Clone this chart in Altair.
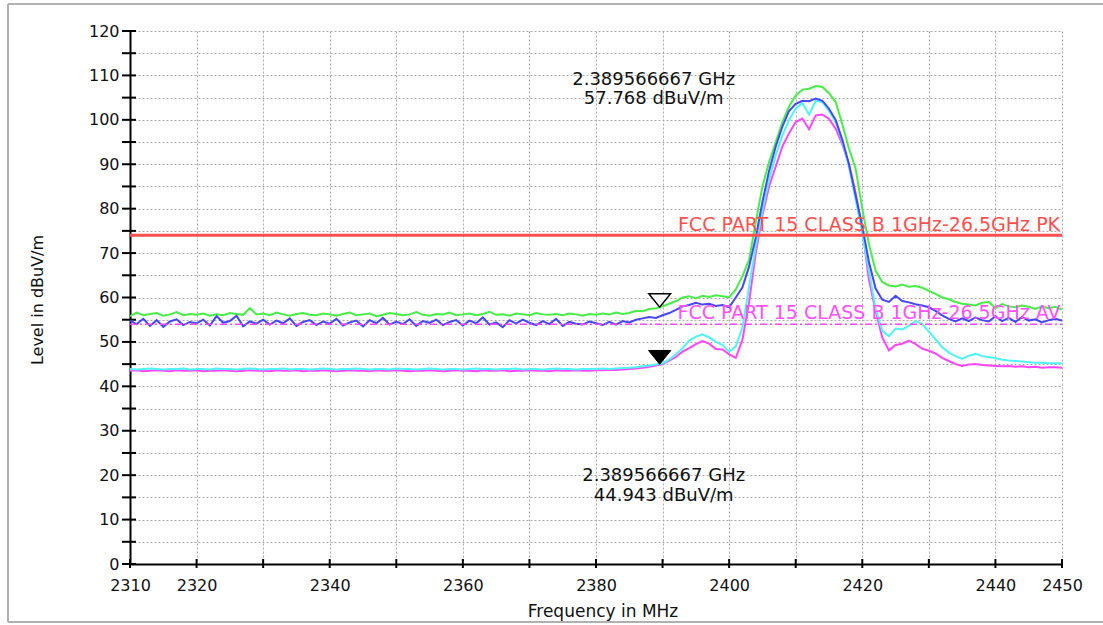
import altair as alt
import pandas as pd

# ---------------- data ----------------
freq = list(range(2310, 2451))  # MHz, 1 MHz steps

green = [
    55.8, 56.6, 56.0, 56.3, 56.5, 55.9, 56.2, 56.7, 56.0, 56.3,
    56.1, 56.4, 55.9, 56.2, 56.0, 56.5, 56.3, 56.1, 57.6, 56.2,
    56.4, 56.0, 56.6, 56.2, 55.9, 56.3, 56.5, 56.1, 56.0, 56.4,
    56.2, 55.9, 56.3, 56.6, 56.0, 56.2, 56.4, 55.8, 56.1, 56.5,
    56.3, 56.0, 56.2, 56.7, 56.1, 55.9, 56.3, 56.2, 56.6, 56.0,
    56.2, 56.4, 56.0, 56.3, 56.8, 56.1, 56.2, 55.9, 56.4, 56.2,
    56.0, 56.5, 56.2, 56.1, 56.3, 56.0, 56.4, 56.2, 55.9, 56.3,
    56.1, 56.4, 56.2, 56.6, 56.3, 56.5, 57.0, 56.9, 57.4, 57.6,
    58.0, 58.6, 59.2, 60.0, 60.3, 59.8, 60.4, 60.1, 60.5, 60.3,
    60.0, 61.8, 64.8, 68.5, 77.0, 85.0, 90.5, 95.0, 99.5, 103.0,
    105.5, 106.8, 107.0, 107.6, 107.4, 106.0, 104.0, 99.0, 93.5, 89.0,
    80.0, 72.0, 66.0, 63.5, 62.7, 62.5, 62.9, 62.4, 62.6, 62.2,
    61.5, 60.8, 60.0, 59.6, 59.0, 58.6, 58.4, 58.2, 58.8, 59.0,
    57.6, 58.5, 58.0, 57.8, 58.2, 57.9, 57.4, 58.0, 57.6, 57.9, 57.3,
]

blue = [
    54.8, 54.0, 55.2, 53.6, 54.9, 53.4, 54.6, 55.1, 53.8, 54.5,
    54.2, 55.0, 53.7, 55.8, 54.3, 54.7, 55.9, 53.5, 54.6, 54.1,
    55.0, 53.9, 54.8, 54.2, 55.3, 53.6, 54.5, 54.9, 53.8, 54.6,
    54.1, 55.2, 53.7, 54.4, 54.8, 53.5, 54.9, 54.2, 55.4, 53.9,
    54.6, 54.0, 55.1, 53.6, 54.7, 54.3, 55.0, 53.8, 54.5, 54.9,
    53.7, 54.8, 54.2, 55.5, 53.9, 54.4, 53.3, 54.9, 54.1, 55.0,
    54.3, 53.8, 54.7, 54.0, 55.2, 53.6, 54.5, 54.1, 53.9, 54.6,
    54.2, 53.8, 54.5, 53.9, 54.7, 54.4, 55.0, 55.3, 55.6, 55.4,
    56.0, 56.5, 57.2, 58.0, 58.3, 58.8, 58.4, 58.6, 58.1, 58.3,
    57.8, 60.0, 62.3, 67.0, 73.5, 81.5, 88.5, 94.0, 98.5, 102.0,
    103.6, 104.3, 104.2, 104.8, 104.3, 102.5, 100.0, 95.5, 90.0, 83.0,
    76.0, 68.0, 62.0, 59.5, 59.0, 60.4, 59.2, 58.9, 58.5, 58.2,
    57.8, 57.0, 56.0, 55.2, 54.6, 55.3, 54.7, 55.5, 54.9, 54.6,
    55.8, 54.7, 55.4, 54.5, 55.6, 54.8, 55.1, 54.4, 54.9, 55.2, 54.8,
]

cyan = [
    43.9, 43.8, 43.9, 44.0, 43.9, 43.8, 43.9, 43.9, 44.0, 43.8,
    43.9, 43.9, 43.8, 44.0, 43.9, 43.9, 43.8, 43.9, 44.0, 43.9,
    43.8, 43.9, 43.9, 44.0, 43.8, 43.9, 43.9, 43.8, 43.9, 44.0,
    43.9, 43.8, 43.9, 43.9, 44.0, 43.9, 43.8, 43.9, 43.9, 43.8,
    44.0, 43.9, 43.9, 43.8, 43.9, 44.0, 43.9, 43.8, 43.9, 43.9,
    43.8, 43.9, 44.0, 43.9, 43.9, 43.8, 43.9, 43.9, 44.0, 43.8,
    43.9, 43.9, 43.8, 43.9, 44.0, 43.9, 43.9, 43.8, 43.9, 43.9,
    43.9, 44.0, 43.9, 44.0, 44.1, 44.2, 44.3, 44.5, 44.7, 44.9,
    45.2, 46.0, 47.2, 48.6, 50.3, 51.2, 51.7, 51.0, 50.0, 49.3,
    47.8, 49.0, 53.3, 62.5, 71.5, 79.5, 86.5, 92.0, 96.5, 100.0,
    102.5, 103.8, 101.2, 104.3, 104.0, 102.0, 99.5, 95.0, 89.5, 82.0,
    74.5, 66.0, 57.5, 52.5, 51.3, 53.0, 52.8, 53.6, 54.7, 54.0,
    52.3, 50.6, 48.8, 47.6, 46.8, 46.2, 46.9, 47.3, 46.8, 46.6,
    46.3, 46.0, 45.8, 45.7, 45.6, 45.4, 45.3, 45.3, 45.2, 45.2, 45.2,
]

magenta = [
    43.5, 43.6, 43.4, 43.5, 43.6, 43.5, 43.4, 43.6, 43.5, 43.5,
    43.6, 43.4, 43.5, 43.5, 43.6, 43.5, 43.4, 43.5, 43.6, 43.5,
    43.5, 43.4, 43.6, 43.5, 43.5, 43.6, 43.4, 43.5, 43.5, 43.6,
    43.5, 43.4, 43.5, 43.6, 43.5, 43.5, 43.4, 43.6, 43.5, 43.5,
    43.6, 43.5, 43.4, 43.5, 43.5, 43.6, 43.5, 43.4, 43.5, 43.6,
    43.5, 43.5, 43.4, 43.6, 43.5, 43.5, 43.6, 43.4, 43.5, 43.5,
    43.6, 43.5, 43.5, 43.4, 43.6, 43.5, 43.5, 43.6, 43.5, 43.5,
    43.6, 43.6, 43.7, 43.7, 43.8, 43.9, 44.0, 44.2, 44.4, 44.7,
    45.0, 45.8, 46.6, 47.8, 48.6, 49.5, 50.2, 49.6, 48.4, 48.3,
    47.2, 46.4, 50.5, 59.0, 70.0, 78.5, 85.0, 89.5, 94.0, 97.0,
    99.5, 100.3, 97.9, 101.0, 101.2, 100.2, 98.0, 94.5, 90.0, 83.5,
    75.5, 64.0, 57.0, 51.0, 48.1, 49.3, 49.6, 50.3, 49.5, 48.5,
    48.0, 47.4, 46.4, 45.7, 45.0, 44.6, 44.9, 45.0, 44.8, 44.7,
    44.6, 44.5, 44.6, 44.4, 44.5, 44.3, 44.4, 44.2, 44.3, 44.3, 44.2,
]

x_ticks = list(range(2310, 2451, 10))
y_ticks = list(range(0, 121, 5))
x_labels = [2310, 2320, 2340, 2360, 2380, 2400, 2420, 2440, 2450]

limit_freq = [2310, 2450]
pk_limit = 74
av_limit = 54
pk_label = "FCC PART 15 CLASS B 1GHz-26.5GHz PK"
av_label = "FCC PART 15 CLASS B 1GHz-26.5GHz AV"

marker_freq = 2389.566667
marker_pk = 57.768
marker_av = 44.943
marker_pk_text = ["2.389566667 GHz", "57.768 dBuV/m"]
marker_av_text = ["2.389566667 GHz", "44.943 dBuV/m"]

x_title = "Frequency in MHz"
y_title = "Level in dBuV/m"

assert all(len(s) == len(freq) for s in (green, blue, cyan, magenta))

# ---------------- chart ----------------
W, H = 932, 533
FONT = "DejaVu Sans"
TXT = "#111111"

label_list = ",".join(str(v) for v in x_labels)
x_axis = alt.Axis(values=x_ticks, format="d", title=None, ticks=False, tickSize=0,
                  domainColor="black", domainWidth=2, grid=True, gridColor="#ababab",
                  gridDash=[2, 2], gridWidth=1, labelFont=FONT, labelFontSize=16,
                  labelColor=TXT, labelPadding=21, labelBaseline="middle",
                  labelFlush=False, labelOverlap=False,
                  labelExpr=f"indexof([{label_list}], datum.value) >= 0 ? datum.label : ''")
y_axis = alt.Axis(values=y_ticks, format="d", title=None, ticks=False, tickSize=0,
                  domainColor="black", domainWidth=2, grid=True, gridColor="#ababab",
                  gridDash=[2, 2], gridWidth=1, labelFont=FONT, labelFontSize=16,
                  labelColor=TXT, labelPadding=11, labelFlush=False, labelOverlap=False,
                  labelExpr="datum.value % 10 === 0 ? datum.label : ''")

x_enc = alt.X("freq:Q", scale=alt.Scale(domain=[2310, 2450], nice=False, zero=False), axis=x_axis)
y_enc = alt.Y("level:Q", scale=alt.Scale(domain=[0, 120], nice=False, zero=True), axis=y_axis)


def trace(values, color):
    df = pd.DataFrame({"freq": freq, "level": values})
    return alt.Chart(df).mark_line(color=color, strokeWidth=2, clip=True).encode(x=x_enc, y=y_enc)


layers = []
# custom crossing tick marks
layers.append(alt.Chart(pd.DataFrame({"level": y_ticks})).mark_rule(color="black", strokeWidth=2)
              .encode(y=y_enc, x=alt.value(-8), x2=alt.value(6)))
layers.append(alt.Chart(pd.DataFrame({"freq": x_ticks})).mark_rule(color="black", strokeWidth=2)
              .encode(x=x_enc, y=alt.value(H - 5), y2=alt.value(H + 4)))

layers += [
    trace(magenta, "#ff46ff"),
    trace(cyan, "#4ff5f5"),
    trace(green, "#46ee46"),
    trace(blue, "#4646ff"),
]

# limit lines
pk_df = pd.DataFrame({"freq": limit_freq, "level": [pk_limit, pk_limit]})
av_df = pd.DataFrame({"freq": limit_freq, "level": [av_limit, av_limit]})
layers.append(alt.Chart(pk_df).mark_line(color="#ff5050", strokeWidth=3).encode(x=x_enc, y=y_enc))
layers.append(alt.Chart(av_df).mark_line(color="#ff46ff", strokeWidth=1.5, strokeDash=[7, 3, 2, 3])
              .encode(x=x_enc, y=y_enc))
layers.append(alt.Chart(pd.DataFrame({"level": [pk_limit], "t": [pk_label]}))
              .mark_text(font=FONT, fontSize=19, color="#ff5050", align="center", baseline="middle", dy=-10)
              .encode(x=alt.value(739), y=y_enc, text="t:N"))
layers.append(alt.Chart(pd.DataFrame({"level": [av_limit], "t": [av_label]}))
              .mark_text(font=FONT, fontSize=19, color="#ff50ff", align="center", baseline="middle", dy=-11.5)
              .encode(x=alt.value(739), y=y_enc, text="t:N"))

# markers
tri = "M -1 -0.62 L 1 -0.62 L 0 0.62 Z"
layers.append(alt.Chart(pd.DataFrame({"freq": [marker_freq], "level": [marker_pk]}))
              .mark_point(shape=tri, size=470, filled=True, fill="white", stroke="black",
                          strokeWidth=1.5, opacity=1, yOffset=-7)
              .encode(x=x_enc, y=y_enc))
layers.append(alt.Chart(pd.DataFrame({"freq": [marker_freq], "level": [marker_av]}))
              .mark_point(shape=tri, size=500, filled=True, fill="black", stroke="black",
                          strokeWidth=1, opacity=1, yOffset=-7)
              .encode(x=x_enc, y=y_enc))

# marker annotations
for text, ypix, dx in [(marker_pk_text[0], 49, -6), (marker_pk_text[1], 68, -6),
                       (marker_av_text[0], 444.5, 4), (marker_av_text[1], 464.5, 4)]:
    layers.append(alt.Chart(pd.DataFrame({"freq": [marker_freq], "t": [text]}))
                  .mark_text(font=FONT, fontSize=18, color=TXT, align="center", baseline="middle", dx=dx)
                  .encode(x=x_enc, y=alt.value(ypix), text="t:N"))

# axis titles
one = pd.DataFrame({"t": [0]})
layers.append(alt.Chart(one).mark_text(text=x_title, font=FONT, fontSize=17, color=TXT,
                                       align="center", baseline="alphabetic")
              .encode(x=alt.value(473), y=alt.value(586)))
layers.append(alt.Chart(one).mark_text(text=y_title, font=FONT, fontSize=16, color=TXT,
                                       align="center", baseline="middle", angle=270)
              .encode(x=alt.value(-92), y=alt.value(269)))

# outer gray frame (top, left, bottom)
layers.append(alt.Chart(one).mark_rule(color="#b0b0b0", strokeWidth=2)
              .encode(x=alt.value(-122), x2=alt.value(973), y=alt.value(-27)))
layers.append(alt.Chart(one).mark_rule(color="#b0b0b0", strokeWidth=2)
              .encode(x=alt.value(-122), y=alt.value(-27), y2=alt.value(591)))
layers.append(alt.Chart(one).mark_rule(color="#b0b0b0", strokeWidth=2)
              .encode(x=alt.value(-122), x2=alt.value(973), y=alt.value(591)))

chart = alt.layer(*layers).properties(
    width=W, height=H,
    padding={"left": 130, "top": 31, "right": 41, "bottom": 61},
    autosize=alt.AutoSizeParams(type="none"),
    background="white",
).configure_view(stroke=None)

chart.save("out.html", embed_options={"renderer": "svg", "actions": False})
